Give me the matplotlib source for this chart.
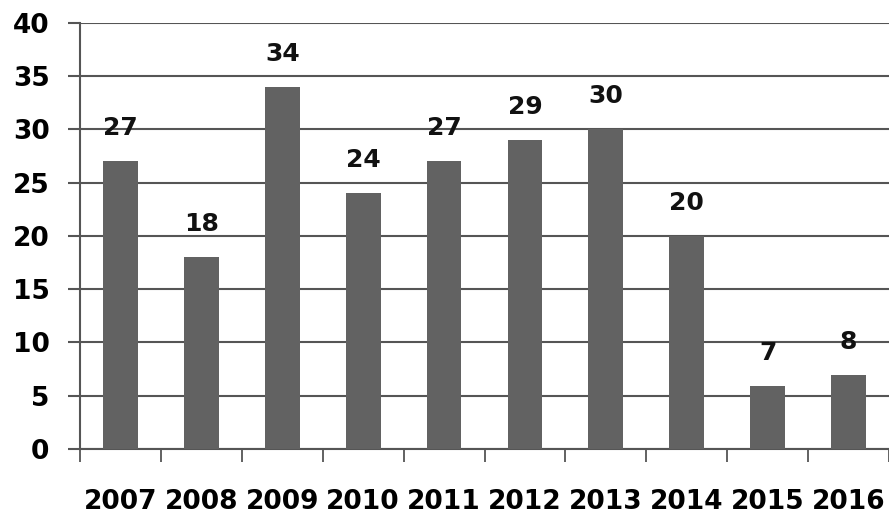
import matplotlib.pyplot as plt
import numpy as np

# data
years = ['2007', '2008', '2009', '2010', '2011', '2012', '2013', '2014', '2015', '2016']
heights = [27, 18, 34, 24, 27, 29, 30, 20, 5.9, 6.9]
labels = ['27', '18', '34', '24', '27', '29', '30', '20', '7', '8']
yticks = [0, 5, 10, 15, 20, 25, 30, 35, 40]

fig = plt.figure(figsize=(8.89, 5.16), dpi=100)
ax = fig.add_axes([0.09, 0.13, 0.91, 0.8256])

x = np.arange(len(years))
ax.bar(x, heights, width=0.43, color='#626262', zorder=3)

# value labels above the bars
for xi, h, lab in zip(x, heights, labels):
    ax.text(xi, h + 2.0, lab, ha='center', va='bottom', fontsize=18,
            fontweight='bold', color='#111111')

ax.set_xlim(-0.5, len(years) - 0.5)
ax.set_ylim(0, 40)
ax.set_yticks(yticks)
ax.set_yticklabels([str(t) for t in yticks], fontsize=19, fontweight='bold')
ax.yaxis.grid(True, color='#555555', linewidth=1.5, zorder=0)

# year labels at centers, tick marks at category borders
ax.set_xticks(x)
ax.set_xticklabels(years, fontsize=19, fontweight='bold')
ax.set_xticks(np.arange(-0.5, len(years), 1.0), minor=True)
ax.tick_params(axis='x', which='major', length=0, pad=29)
ax.tick_params(axis='x', which='minor', length=9, width=1.3, color='#555555', direction='out')
ax.tick_params(axis='y', length=9, width=1.5, color='#555555', pad=13)

for s in ['top', 'right']:
    ax.spines[s].set_visible(False)
ax.spines['left'].set_color('#555555')
ax.spines['left'].set_linewidth(1.5)
ax.spines['bottom'].set_color('#555555')
ax.spines['bottom'].set_linewidth(1.5)

plt.savefig('out.png', dpi=100)
